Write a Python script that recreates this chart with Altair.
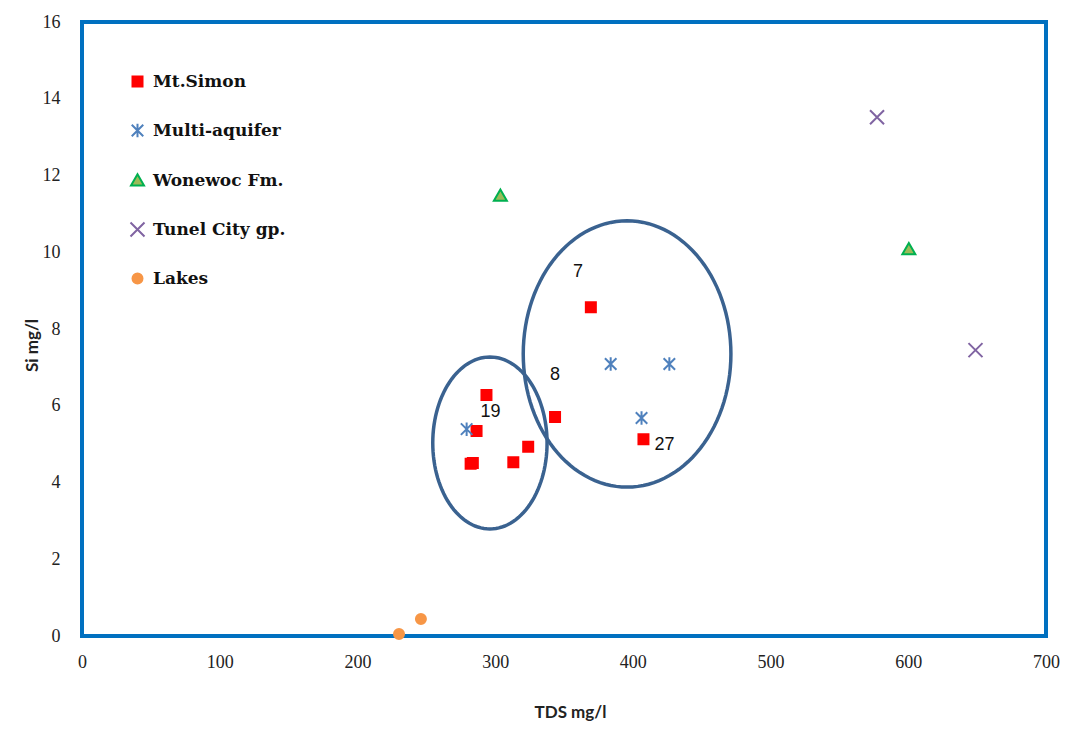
import altair as alt
import numpy as np
import pandas as pd

# ---- data ----
series_names = ["Mt.Simon", "Multi-aquifer", "Wonewoc Fm.", "Tunel City gp.", "Lakes"]

ms_tds = [293.7, 286.5, 282.2, 283.8, 313.2, 324.0, 343.5, 369.5, 407.7]
ms_si = [6.28, 5.34, 4.49, 4.51, 4.53, 4.93, 5.71, 8.57, 5.13]
ma_tds = [279.3, 383.9, 426.5, 406.3]
ma_si = [5.39, 7.09, 7.09, 5.68]
wo_tds = [303.8, 600.4]
wo_si = [11.47, 10.08]
tc_tds = [577.3, 648.8]
tc_si = [13.52, 7.45]
lk_tds = [230.2, 246.1]
lk_si = [0.05, 0.44]

label_text = ["7", "8", "19", "27"]
label_tds = [360.1, 343.5, 296.6, 422.9]
label_si = [9.49, 6.80, 5.84, 4.98]

# ellipses (annotation): centre x, centre y, radius x, radius y (data units)
ell_cx = [296.2, 395.8]
ell_cy = [5.03, 7.35]
ell_rx = [41.5, 75.4]
ell_ry = [2.24, 3.47]

x_ticks = [0, 100, 200, 300, 400, 500, 600, 700]
y_ticks = [0, 2, 4, 6, 8, 10, 12, 14, 16]

# ---- tables ----
rows = []
for name, xs_, ys_ in zip(series_names,
                          [ms_tds, ma_tds, wo_tds, tc_tds, lk_tds],
                          [ms_si, ma_si, wo_si, tc_si, lk_si]):
    for a, b in zip(xs_, ys_):
        rows.append({"series": name, "TDS": a, "Si": b})
pts = pd.DataFrame(rows)

labels = pd.DataFrame({"t": label_text, "TDS": label_tds, "Si": label_si})

ell_rows = []
ang = np.linspace(0, 2 * np.pi, 121)
for k in range(len(ell_cx)):
    for i, a in enumerate(ang):
        ell_rows.append({"id": k, "i": i,
                         "TDS": ell_cx[k] + ell_rx[k] * np.cos(a),
                         "Si": ell_cy[k] + ell_ry[k] * np.sin(a)})
ell = pd.DataFrame(ell_rows)

# ---- scales ----
xs = alt.Scale(domain=[0, 700], nice=False, zero=False)
ys = alt.Scale(domain=[0, 16], nice=False, zero=False)

x_axis = alt.Axis(values=x_ticks, grid=False, domain=False, ticks=False,
                  labelFlush=False,
                  labelFont="Liberation Serif", labelFontSize=18, labelColor="#222",
                  labelPadding=17, title="TDS mg/l", titleFont="Lato",
                  titleFontWeight="bold", titleFontSize=17, titleColor="#222",
                  titleX=488, titleY=76, titleBaseline="middle")
y_axis = alt.Axis(values=y_ticks, grid=False, domain=False, ticks=False,
                  labelFlush=False,
                  labelFont="Liberation Serif", labelFontSize=18, labelColor="#222",
                  labelPadding=22, title="Si mg/l", titleFont="Lato",
                  titleFontWeight="bold", titleFontSize=17, titleColor="#222",
                  titleX=-50, titleY=323, titleBaseline="middle", titleAlign="center")

shape_range = [
    "square",
    "M-1.15,-1.15L1.15,1.15M-1.15,1.15L1.15,-1.15M0,-1.35L0,1.35",
    "M0,-1.25L1.3,1L-1.3,1Z",
    "M-1.4,-1.4L1.4,1.4M-1.4,1.4L1.4,-1.4",
    "circle",
]
stroke_range = ["#ff0000", "#4f81bd", "#00b050", "#8064a2", "#f79646"]
fill_range = ["#ff0000", "transparent", "#9bbb59", "transparent", "#f79646"]

legend = alt.Legend(title=None, orient="none", legendX=47, legendY=51,
                    labelFont="DejaVu Serif", labelFontWeight="bold",
                    labelFontSize=17, labelColor="#111", labelOffset=7,
                    symbolSize=100, symbolStrokeWidth=2, symbolOpacity=1,
                    rowPadding=28, padding=0)

points = alt.Chart(pts).mark_point(size=100, strokeWidth=2, opacity=1).encode(
    x=alt.X("TDS:Q", scale=xs, axis=x_axis),
    y=alt.Y("Si:Q", scale=ys, axis=y_axis),
    shape=alt.Shape("series:N", scale=alt.Scale(domain=series_names, range=shape_range), legend=legend),
    stroke=alt.Stroke("series:N", scale=alt.Scale(domain=series_names, range=stroke_range), legend=legend),
    fill=alt.Fill("series:N", scale=alt.Scale(domain=series_names, range=fill_range), legend=legend),
)

ellipses = alt.Chart(ell).mark_line(color="#3a6290", strokeWidth=3.5).encode(
    x=alt.X("TDS:Q", scale=xs),
    y=alt.Y("Si:Q", scale=ys),
    detail="id:N",
    order="i:Q",
)

texts = alt.Chart(labels).mark_text(font="Liberation Sans", fontSize=18, color="#111").encode(
    x=alt.X("TDS:Q", scale=xs),
    y=alt.Y("Si:Q", scale=ys),
    text="t:N",
)

chart = alt.layer(ellipses, points, texts).properties(
    width=964, height=614,
    background="white",
    autosize=alt.AutoSizeParams(type="none"),
    padding={"left": 74, "top": 14, "right": 15, "bottom": 85},
).configure_view(stroke="#0070c0", strokeWidth=4)

chart.save("out.html", embed_options={"renderer": "svg", "actions": False})
